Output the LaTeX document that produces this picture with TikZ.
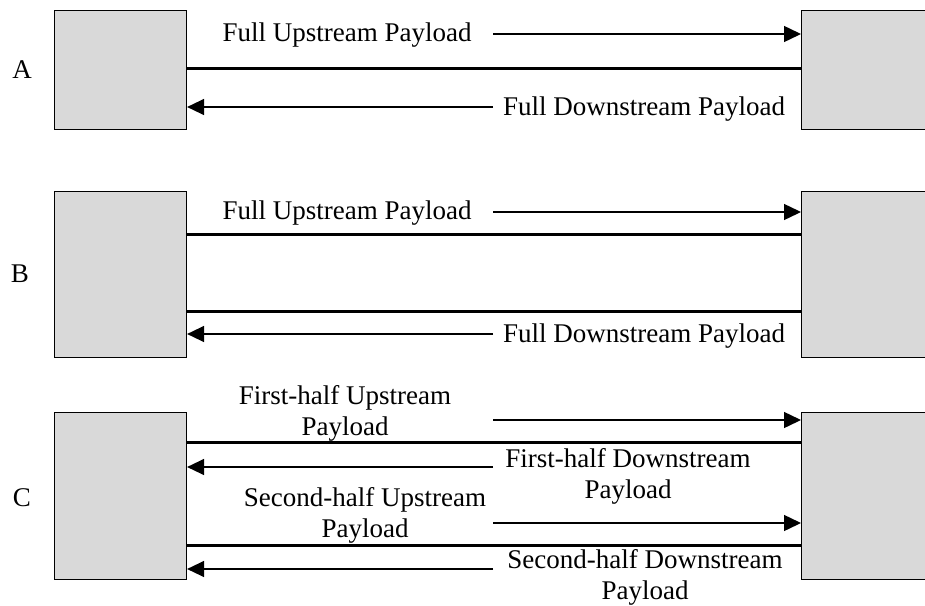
\documentclass[tikz,border=0pt]{standalone}
\usepackage{fontspec}
\setmainfont{Liberation Serif}
\usetikzlibrary{arrows.meta}
\definecolor{boxgray}{RGB}{217,217,217}
\tikzset{
  endbox/.style={draw=black, fill=boxgray, line width=1.1pt, anchor=north west, inner sep=0pt},
  thickline/.style={line width=3pt},
  flow/.style={line width=1.4pt, -{Triangle[length=17pt,width=16pt]}},
  lbl/.style={font=\fontsize{27}{31}\selectfont, inner sep=0pt, align=center},
  rowlbl/.style={font=\fontsize{27}{31}\selectfont, inner sep=0pt}
}
\begin{document}
\begin{tikzpicture}[x=1pt,y=-1pt]
\useasboundingbox (0,0) rectangle (925,605);
\clip (0,0) rectangle (925,605);
% boxes
\node[endbox, minimum width=132pt, minimum height=119pt] (LA) at (54,10) {};
\node[endbox, minimum width=150pt, minimum height=119pt] (RA) at (801,10) {};
\node[endbox, minimum width=132pt, minimum height=166pt] (LB) at (54,191) {};
\node[endbox, minimum width=150pt, minimum height=166pt] (RB) at (801,191) {};
\node[endbox, minimum width=132pt, minimum height=167pt] (LC) at (54,412) {};
\node[endbox, minimum width=150pt, minimum height=167pt] (RC) at (801,412) {};
% row labels
\node[rowlbl] (tA) at (22,70) {A};
\node[rowlbl] (tB) at (20,274) {B};
\node[rowlbl] (tC) at (22,498) {C};
% row A
\coordinate (a1) at (493,34);
\coordinate (a2) at (493,107);
\draw[thickline] (LA.east |- 0,68) -- (RA.west |- 0,68);
\draw[flow] (a1) -- (RA.west |- a1);
\draw[flow] (a2) -- (LA.east |- a2);
\node[lbl, anchor=base] (tAu) at (347,41) {Full Upstream Payload};
\node[lbl, anchor=base] (tAd) at (644,115) {Full Downstream Payload};
% row B
\coordinate (b1) at (493,212);
\coordinate (b2) at (493,334);
\draw[thickline] (LB.east |- 0,234) -- (RB.west |- 0,234);
\draw[thickline] (LB.east |- 0,311) -- (RB.west |- 0,311);
\draw[flow] (b1) -- (RB.west |- b1);
\draw[flow] (b2) -- (LB.east |- b2);
\node[lbl, anchor=base] (tBu) at (347,219) {Full Upstream Payload};
\node[lbl, anchor=base] (tBd) at (644,342) {Full Downstream Payload};
% row C
\coordinate (c1) at (493,420);
\coordinate (c2) at (493,467);
\coordinate (c3) at (493,523);
\coordinate (c4) at (493,569);
\draw[thickline] (LC.east |- 0,442) -- (RC.west |- 0,442);
\draw[thickline] (LC.east |- 0,545) -- (RC.west |- 0,545);
\draw[flow] (c1) -- (RC.west |- c1);
\draw[flow] (c2) -- (LC.east |- c2);
\draw[flow] (c3) -- (RC.west |- c3);
\draw[flow] (c4) -- (LC.east |- c4);
\node[lbl] (tC1u) at (345,413) {First-half Upstream\\Payload};
\node[lbl] (tC1d) at (628,476) {First-half Downstream\\Payload};
\node[lbl] (tC2u) at (365,515) {Second-half Upstream\\Payload};
\node[lbl] (tC2d) at (645,577) {Second-half Downstream\\Payload};
\end{tikzpicture}
\end{document}
